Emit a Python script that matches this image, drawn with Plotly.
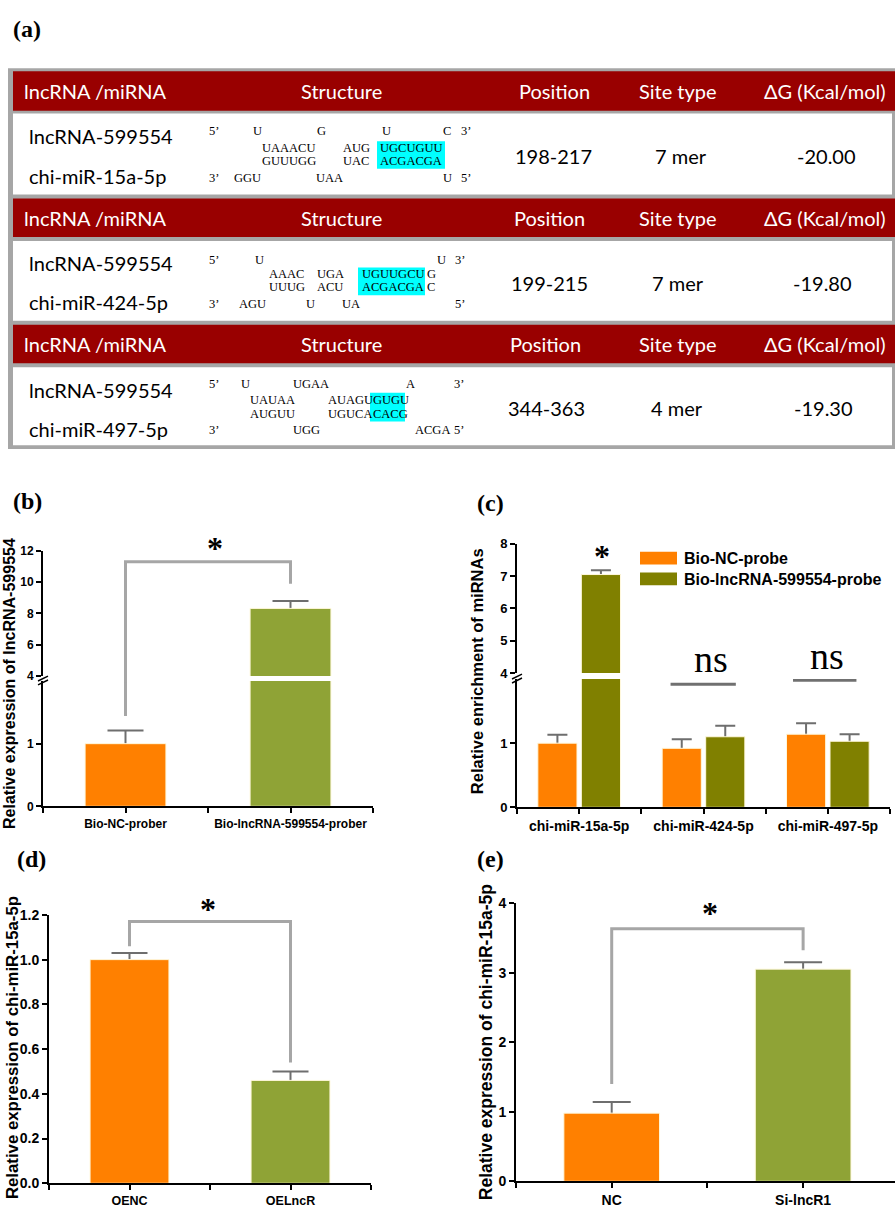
import plotly.graph_objects as go

W, H = 895, 1213

# ------------------------------------------------------------------ data
# (a) predicted binding of lncRNA-599554 with miRNAs
tbl_header = ["lncRNA /miRNA", "Structure", "Position", "Site type", "ΔG (Kcal/mol)"]
tbl_lncrna = ["lncRNA-599554", "lncRNA-599554", "lncRNA-599554"]
tbl_mirna = ["chi-miR-15a-5p", "chi-miR-424-5p", "chi-miR-497-5p"]
tbl_position = ["198-217", "199-215", "344-363"]
tbl_site = ["7 mer", "7 mer", "4 mer"]
tbl_dg = [-20.00, -19.80, -19.30]
struct_lines = [
    [["5’", "U", "G", "U", "C", "3’"],
     ["UAAACU", "AUG", "UGCUGUU"],
     ["GUUUGG", "UAC", "ACGACGA"],
     ["3’", "GGU", "UAA", "U", "5’"]],
    [["5’", "U", "U", "3’"],
     ["AAAC", "UGA", "UGUUGCU", "G"],
     ["UUUG", "ACU", "ACGACGA", "C"],
     ["3’", "AGU", "U", "UA", "5’"]],
    [["5’", "U", "UGAA", "A", "3’"],
     ["UAUAA", "AUAGU", "GUGU"],
     ["AUGUU", "UGUCA", "CACG"],
     ["3’", "UGG", "ACGA", "5’"]],
]

# (b)
b_groups = ["Bio-NC-prober", "Bio-lncRNA-599554-prober"]
b_mean = [1.00, 8.32]
b_err = [0.21, 0.48]
b_sig = [1.44, 11.3, 9.9]          # left leg bottom, bracket top, right leg bottom

# (c)
c_groups = ["chi-miR-15a-5p", "chi-miR-424-5p", "chi-miR-497-5p"]
c_series = ["Bio-NC-probe", "Bio-lncRNA-599554-probe"]
c_nc = [1.00, 0.92, 1.14]
c_nc_err = [0.13, 0.14, 0.17]
c_lnc = [7.05, 1.10, 1.03]
c_lnc_err = [0.13, 0.17, 0.11]
c_ns_level = [1.92, 1.98]

# (d)
d_groups = ["OENC", "OELncR"]
d_mean = [1.00, 0.46]
d_err = [0.03, 0.04]
d_sig = [1.06, 1.17, 0.54]

# (e)
e_groups = ["NC", "Si-lncR1"]
e_mean = [0.98, 3.05]
e_err = [0.16, 0.10]
e_sig = [1.40, 3.63, 3.32]

# ------------------------------------------------------------------ style
ORANGE = "#FF8000"
GREEN = "#8FA336"
OLIVE = "#808000"
ERR_C = "#6E6E6E"
BRK_C = "#A6A6A6"
EDGE = "#FFF8DC"
RED = "#990000"
F_TBL = "Lato"
F_SER = "Liberation Serif"
F_ARI = "Liberation Sans"


def fx(x):
    return x / W


def fy(y):
    return 1 - y / H


shapes, anns = [], []


def rect(x0, y0, x1, y1, color, layer="below"):
    shapes.append(dict(type="rect", xref="paper", yref="paper", x0=fx(x0), x1=fx(x1),
                       y0=fy(y1), y1=fy(y0), fillcolor=color, line=dict(width=0), layer=layer))


def seg(x0, y0, x1, y1, color="black", w=1.5):
    shapes.append(dict(type="line", xref="paper", yref="paper", x0=fx(x0), x1=fx(x1),
                       y0=fy(y0), y1=fy(y1), line=dict(color=color, width=w)))


def text(t, x, y, size, family, color="black", xa="center", ya="middle", weight="normal", angle=0):
    anns.append(dict(text=t, x=fx(x), y=fy(y), xref="paper", yref="paper", showarrow=False,
                     xanchor=xa, yanchor=ya, textangle=angle,
                     font=dict(size=size, family=family, color=color, weight=weight)))


# ------------------------------------------------------------------ (a) table
text("(a)", 27, 21, 24, F_SER, weight="bold")
rect(8, 61, 895, 447, "#A6A6A6")
hdr_rows = [(64, 104), (193, 232), (321, 360)]
body_rows = [(107, 189), (236, 317), (364, 443)]
hdr_x = [[95, 341, 554, 678, 825], [95, 341, 549, 678, 825], [95, 341, 545, 678, 825]]
col_x = [[553, 681, 826], [549, 678, 822], [546, 677, 823]]
name_y = [(130, 170), (258, 298), (387, 427)]
struct_x = [
    [[207, 251, 315, 380, 441, 459], [260, 341, 378], [260, 341, 378], [207, 232, 314, 441, 459]],
    [[207, 253, 435, 453], [267, 315, 360, 425], [267, 315, 360, 425], [207, 237, 304, 340, 453]],
    [[207, 239, 291, 404, 452], [248, 326, 371], [248, 326, 371], [207, 291, 413, 452]],
]
struct_y = [[125, 142, 155, 172], [255, 270, 283, 300], [381, 397, 411, 428]]
seed_box = [(377, 445), (358, 425), (370, 405)]
for r in range(3):
    h0, h1 = hdr_rows[r]
    b0, b1 = body_rows[r]
    rect(13, h0, 895, h1, RED)
    rect(13, b0, 892, b1, "white")
    for k, t in enumerate(tbl_header):
        text(t, hdr_x[r][k], (h0 + h1) / 2, 20, F_TBL, color="white")
    text(tbl_lncrna[r], 27, name_y[r][0], 20, F_TBL, xa="left")
    text(tbl_mirna[r], 27, name_y[r][1], 20, F_TBL, xa="left")
    ymid = (b0 + b1) / 2 + 2
    text(tbl_position[r], col_x[r][0], ymid, 20, F_TBL)
    text(tbl_site[r], col_x[r][1], ymid, 20, F_TBL)
    text(f"{tbl_dg[r]:.2f}", col_x[r][2], ymid, 20, F_TBL)
    # seed highlight
    sx0, sx1 = seed_box[r]
    rect(sx0, struct_y[r][1] - 7, sx1, struct_y[r][2] + 8, "#00FFFF", layer="above")
    for li, ln in enumerate(struct_lines[r]):
        for ti, tok in enumerate(ln):
            text(tok, struct_x[r][li][ti], struct_y[r][li], 12.5, F_SER, xa="left")

# ------------------------------------------------------------------ traces
traces = []


def bar_pair(xa, ya, xs, ys, errs, color, cap, width=None, og=None):
    traces.append(go.Bar(x=xs, y=ys, xaxis=xa, yaxis=ya, width=width, offsetgroup=og,
                         marker=dict(color="rgba(0,0,0,0)", line=dict(width=0)),
                         error_y=dict(type="data", array=errs, symmetric=True, color=ERR_C,
                                      thickness=2, width=cap),
                         showlegend=False, hoverinfo="skip"))
    traces.append(go.Bar(x=xs, y=ys, xaxis=xa, yaxis=ya, width=width, offsetgroup=og,
                         marker=dict(color=color, line=dict(color=EDGE, width=1)),
                         showlegend=False, hoverinfo="skip"))


def line(xa, ya, xs, ys, color=BRK_C, w=3):
    traces.append(go.Scatter(x=xs, y=ys, xaxis=xa, yaxis=ya, mode="lines",
                             line=dict(color=color, width=w), cliponaxis=False,
                             showlegend=False, hoverinfo="skip"))


# axis domains (pixels from top)
B_LOW, B_UP = (682, 809), (550, 677)
C_LOW, C_UP = (680, 810), (543, 674)

# (b) split axis: y (0-2) and y2 (4-12)
bx = list(range(len(b_groups)))
for ya in ["y", "y2"]:
    for i in bx:
        bar_pair("x", ya, [i], [b_mean[i]], [b_err[i]], [ORANGE, GREEN][i], 18, width=0.49, og="b")
line("x", "y", [0, 0], [b_sig[0], 2])
line("x", "y2", [0, 0, 1, 1], [4, b_sig[1], b_sig[1], b_sig[2]])
# connector of the bracket leg across the axis break
shapes.append(dict(type="line", xref="x", yref="paper", x0=0, x1=0,
                   y0=fy(B_LOW[0]) - 0.001, y1=fy(B_UP[1]) + 0.001,
                   line=dict(color=BRK_C, width=3)))

# (c) split axis: y3 (0-2) and y4 (4-8)
cx = list(range(len(c_groups)))
for ya in ["y3", "y4"]:
    bar_pair("x2", ya, cx, c_nc, c_nc_err, ORANGE, 10, og="nc")
    bar_pair("x2", ya, cx, c_lnc, c_lnc_err, OLIVE, 10, og="lnc")
line("x2", "y3", [0.735, 1.26], [c_ns_level[0]] * 2, color="#707070")
line("x2", "y3", [1.72, 2.23], [c_ns_level[1]] * 2, color="#707070")

# (d)
dx = list(range(len(d_groups)))
for i in dx:
    bar_pair("x3", "y5", [i], [d_mean[i]], [d_err[i]], [ORANGE, GREEN][i], 18, width=0.49, og="d")
line("x3", "y5", [0, 0, 1, 1], [d_sig[0], d_sig[1], d_sig[1], d_sig[2]])

# (e)
ex = list(range(len(e_groups)))
for i in ex:
    bar_pair("x4", "y6", [i], [e_mean[i]], [e_err[i]], [ORANGE, GREEN][i], 19, width=0.5, og="e")
line("x4", "y6", [0, 0, 1, 1], [e_sig[0], e_sig[1], e_sig[1], e_sig[2]])

fig = go.Figure(traces)


def axis(dom, rng, anchor, tsize, **kw):
    d = dict(domain=dom, range=rng, anchor=anchor, showgrid=False, zeroline=False,
             showline=True, linecolor="black", linewidth=2, ticks="outside", ticklen=5,
             tickwidth=2, tickcolor="black", fixedrange=True,
             tickfont=dict(family=F_ARI, size=tsize, color="black", weight="bold"))
    d.update(kw)
    return d


def xcat(groups):
    vals, txt = [], []
    for i, g in enumerate(groups):
        vals += [i - 0.5, i]
        txt += ["", g]
    vals.append(len(groups) - 0.5)
    txt.append("")
    return dict(tickmode="array", tickvals=vals, ticktext=txt)


def ydom(p):
    return [fy(p[1]), fy(p[0])]


xe = xcat(e_groups)
xe["tickvals"], xe["ticktext"] = xe["tickvals"][:-1], xe["ticktext"][:-1]

fig.update_layout(
    width=W, height=H, margin=dict(l=0, r=0, t=0, b=0),
    paper_bgcolor="white", plot_bgcolor="rgba(0,0,0,0)",
    barmode="group", bargap=0.3, bargroupgap=0.1, showlegend=False,
    xaxis=axis([fx(43), fx(373)], [-0.5, 1.5], "y", 12, **xcat(b_groups)),
    yaxis=axis(ydom(B_LOW), [0, 2], "x", 12, tickvals=[0, 1]),
    yaxis2=axis(ydom(B_UP), [4, 12], "x", 12, tickvals=[4, 6, 8, 10, 12]),
    xaxis2=axis([fx(517), fx(890)], [-0.5, 2.5], "y3", 14, **xcat(c_groups)),
    yaxis3=axis(ydom(C_LOW), [0, 2], "x2", 13, tickvals=[0, 1]),
    yaxis4=axis(ydom(C_UP), [4, 8], "x2", 13, tickvals=[4, 5, 6, 7, 8]),
    xaxis3=axis([fx(49), fx(371)], [-0.5, 1.5], "y5", 12.5, **xcat(d_groups)),
    yaxis5=axis([fy(1191), fy(919)], [0, 1.2], "x3", 14, dtick=0.2, tick0=0, tickformat=".1f"),
    xaxis4=axis([fx(516), 1.0], [-0.5, 1.48], "y6", 14, **xe),
    yaxis6=axis([fy(1189), fy(907)], [0, 4], "x4", 14, dtick=1, tick0=0),
)

# axis breaks
seg(38, 682, 48, 677)
seg(38, 686, 48, 681)
seg(512, 680, 522, 675)
seg(512, 684, 522, 679)

# panel labels
text("(b)", 27, 500, 24, F_SER, weight="bold")
text("(c)", 490, 502, 24, F_SER, weight="bold")
text("(d)", 32, 862, 24, F_SER, weight="bold")
text("(e)", 490, 862, 24, F_SER, weight="bold")

# axis titles
text("Relative expression of lncRNA-599554", 10, 685, 16, F_ARI, weight="bold", angle=-90)
text("Relative enrichment of miRNAs", 477, 672, 16.5, F_ARI, weight="bold", angle=-90)
text("Relative expression of chi-miR-15a-5p", 12, 1054, 16.8, F_ARI, weight="bold", angle=-90)
text("Relative expression of chi-miR-15a-5p", 486, 1048, 17.5, F_ARI, weight="bold", angle=-90)

# significance marks
for (sx, sy) in [(215, 547), (602, 555), (208, 913), (710, 917)]:
    text("*", sx, sy, 32, F_SER, weight="bold")
text("ns", 711, 660, 38, F_SER)
text("ns", 827, 657, 38, F_SER)

# legend (c)
rect(640, 551, 677, 564, ORANGE, layer="above")
rect(640, 572, 677, 585, OLIVE, layer="above")
text(c_series[0], 682, 558, 16, F_ARI, xa="left", weight="bold")
text(c_series[1], 682, 579, 16, F_ARI, xa="left", weight="bold")

fig.update_layout(shapes=shapes, annotations=anns)
fig.write_html("out.html", config={"displayModeBar": False, "staticPlot": True},
               post_script="document.body.style.margin='0';document.body.style.overflow='hidden';")
